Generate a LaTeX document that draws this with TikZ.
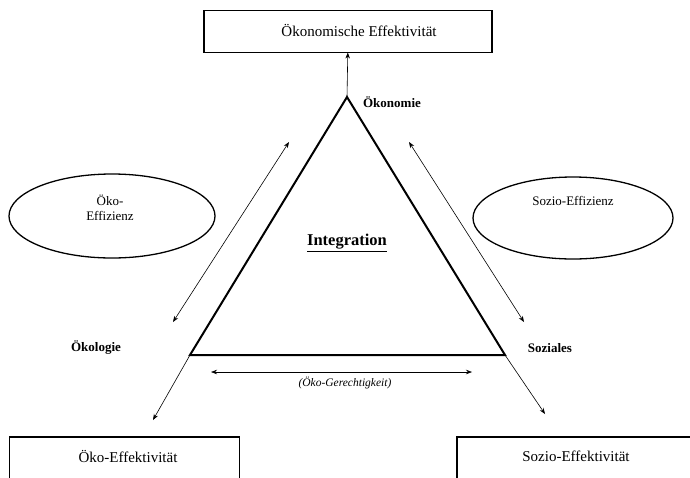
\documentclass[tikz,border=0pt]{standalone}
\usepackage{fontspec}
\setmainfont{Liberation Serif}
\usetikzlibrary{arrows.meta,shapes.geometric}
\begin{document}
\begin{tikzpicture}[x=1pt,y=-1pt,
  boxframe/.style={draw,line width=1.6pt,inner sep=0pt,anchor=north west},
  oval/.style={draw,ellipse,line width=1.3pt,inner sep=0pt},
  tri/.style={line width=2pt,line join=miter},
  thinline/.style={line width=0.6pt},
  onetip/.style={thinline,-{Stealth[length=6pt,width=4.5pt]}},
  twotips/.style={thinline,{Stealth[length=6pt,width=4.5pt]}-{Stealth[length=6pt,width=4.5pt]}},
  bigtxt/.style={font=\fontsize{15}{17}\selectfont,inner sep=0pt},
  midtxt/.style={font=\fontsize{13}{15}\selectfont,inner sep=0pt,align=center},
  boldtxt/.style={font=\fontsize{13}{15}\selectfont\bfseries,inner sep=0pt}]
\clip (0,0) rectangle (690,477);
\fill[white] (0,0) rectangle (690,477);
% boxes
\node[boxframe,minimum width=288pt,minimum height=42pt] (topbox) at (203,9.5) {};
\node[bigtxt] (toptxt) at (359,30) {Ökonomische Effektivität};
\node[boxframe,minimum width=230pt,minimum height=70pt] (lbox) at (8.5,436) {};
\node[bigtxt] (ltxt) at (128,456) {Öko-Effektivität};
\node[boxframe,minimum width=260pt,minimum height=70pt] (rbox) at (456,436) {};
\node[bigtxt] (rtxt) at (576,456) {Sozio-Effektivität};
% ellipses
\node[oval,minimum width=206pt,minimum height=84pt] (lell) at (112,216) {};
\node[midtxt] (lelltxt) at (110,208) {Öko-\\Effizienz};
\node[oval,minimum width=200pt,minimum height=82pt] (rell) at (573,218) {};
\node[midtxt] (relltxt) at (573,201) {Sozio-Effizienz};
% triangle
\coordinate (apex) at (347,97);
\coordinate (cl) at (190,355);
\coordinate (cr) at (505,355);
\draw[tri] (apex) -- (cl) -- (cr) -- cycle;
% labels
\node[boldtxt] (oekon) at (392,102) {Ökonomie};
\node[boldtxt] (oekol) at (96,348) {Ökologie};
\node[boldtxt] (soz) at (550,348) {Soziales};
\node[font=\fontsize{16.5}{19}\selectfont\bfseries,inner sep=0pt] (integ) at (347,243) {\underline{Integration}};
\node[font=\fontsize{11.5}{13}\selectfont\itshape,inner sep=0pt] (gerecht) at (345,383) {(Öko-Gerechtigkeit)};
% arrows
\draw[onetip] (apex) -- (topbox.south |- 0,52.5);
\coordinate (lfree) at (153,420);
\coordinate (rfree) at (545,414);
\draw[onetip] (cl) -- (lfree);
\draw[onetip] (cr) -- (rfree);
\coordinate (la1) at (289,142);
\coordinate (la2) at (173,322);
\draw[twotips] (la1) -- (la2);
\coordinate (ra1) at (409,142);
\coordinate (ra2) at (524,322);
\draw[twotips] (ra1) -- (ra2);
\coordinate (ba1) at (211,372);
\coordinate (ba2) at (472,372);
\draw[twotips] (ba1) -- (ba2);
\end{tikzpicture}
\end{document}
